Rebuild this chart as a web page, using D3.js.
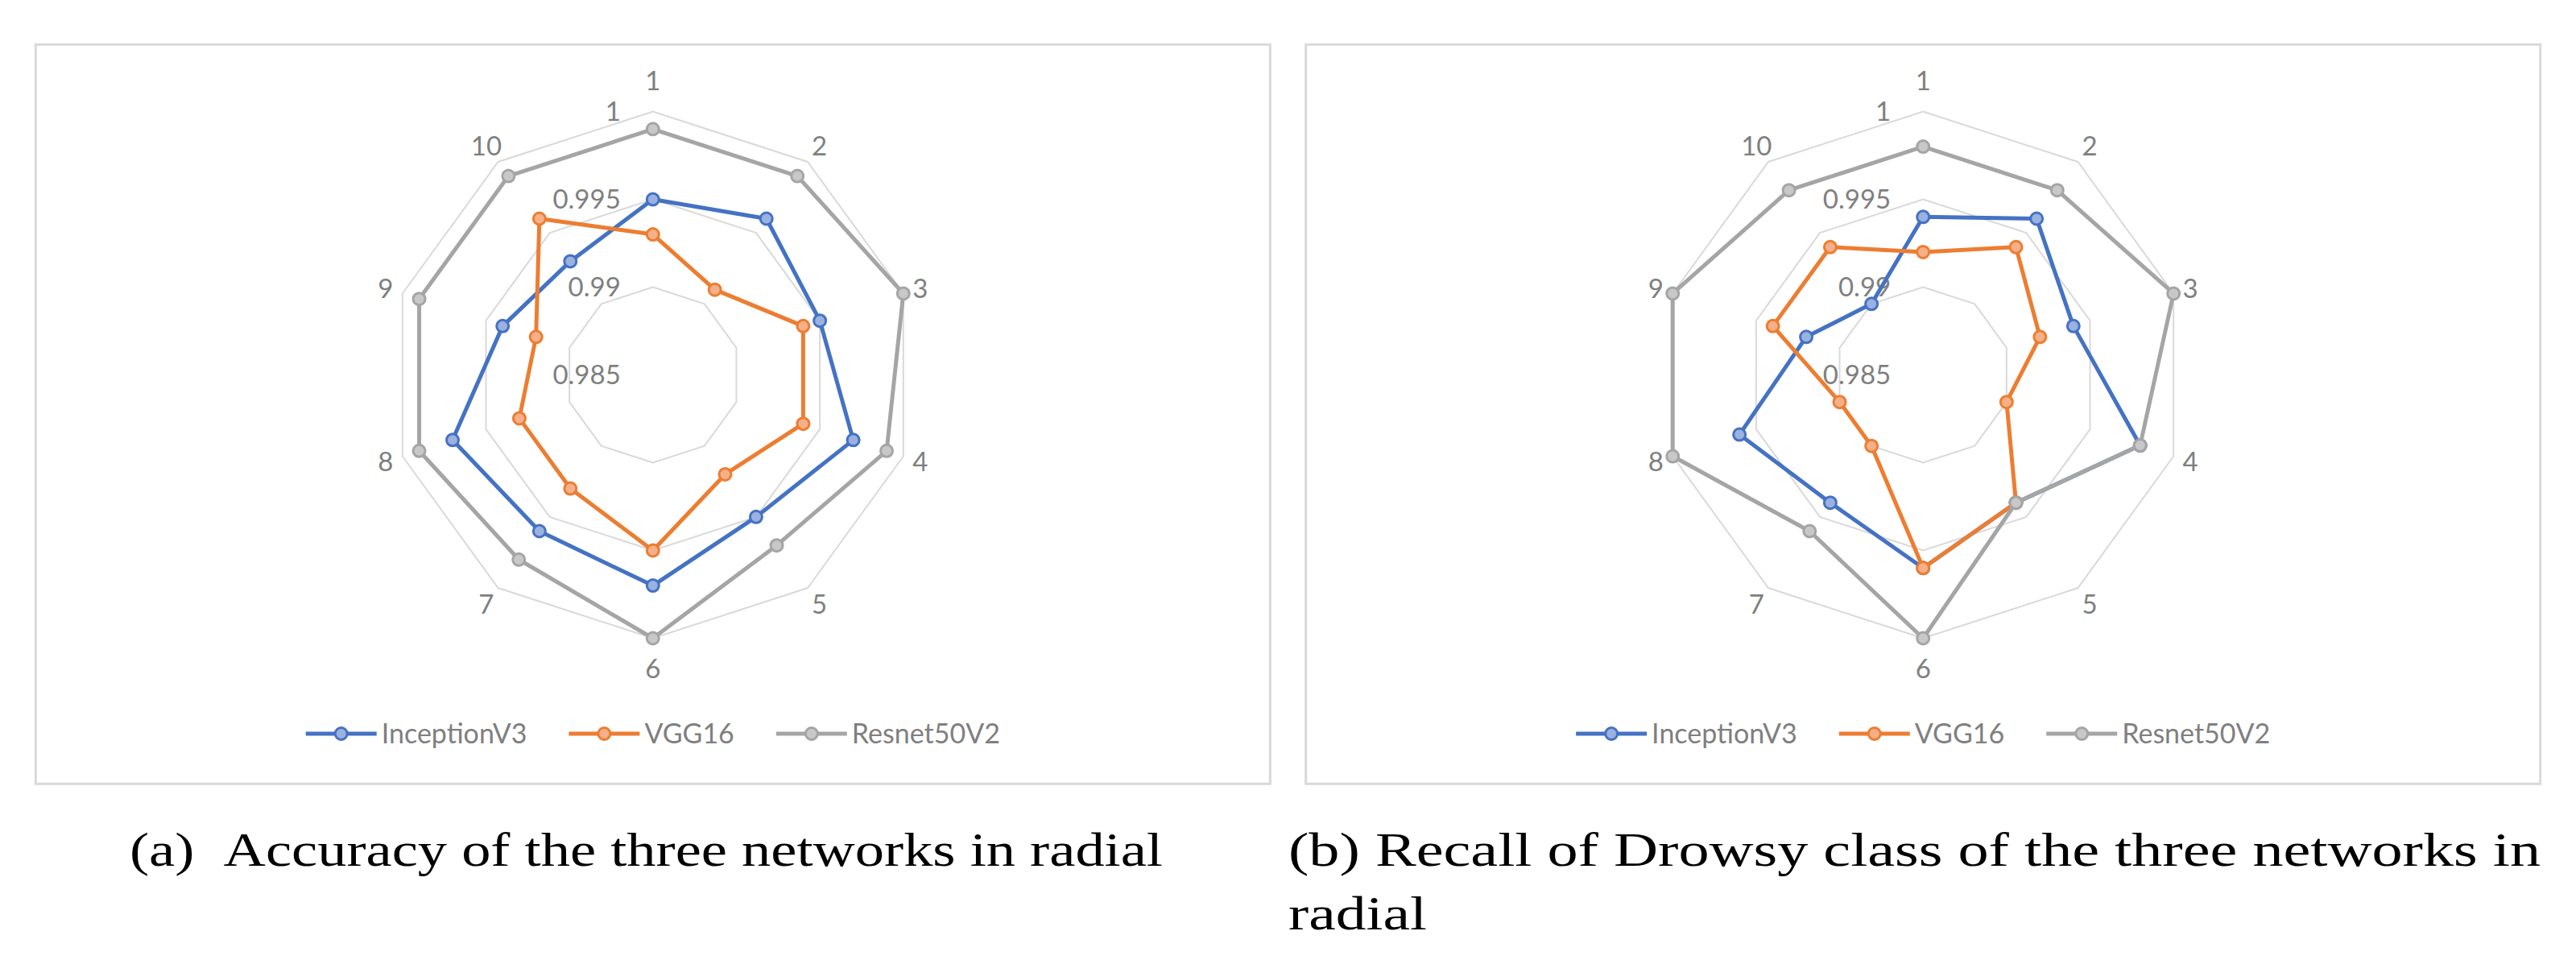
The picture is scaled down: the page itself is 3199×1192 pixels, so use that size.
<!DOCTYPE html>
<html>
<head>
<meta charset="utf-8">
<script src="https://cdn.jsdelivr.net/npm/d3@7"></script>
<style>
  body { margin: 0; background: #fff; }
  svg { display: block; }
</style>
</head>
<body>
<svg id="chart"></svg>
<script>
// ── Data ────────────────────────────────────────────────────────────────
const categories  = ["1", "2", "3", "4", "5", "6", "7", "8", "9", "10"];
const seriesNames = ["InceptionV3", "VGG16", "Resnet50V2"];

// (a) accuracy
const accInception = [0.995, 0.996, 0.995, 0.997, 0.995, 0.997, 0.996, 0.997, 0.994, 0.993];
const accVgg       = [0.993, 0.991, 0.994, 0.994, 0.992, 0.995, 0.993, 0.993, 0.992, 0.996];
const accResnet    = [0.999, 0.999, 1.000, 0.999, 0.997, 1.000, 0.998, 0.999, 0.999, 0.999];

// (b) recall of Drowsy class
const recInception = [0.994, 0.996, 0.994, 0.998, 0.994, 0.996, 0.994, 0.996, 0.992, 0.990];
const recVgg       = [0.992, 0.994, 0.992, 0.990, 0.994, 0.996, 0.990, 0.990, 0.994, 0.994];
const recResnet    = [0.998, 0.998, 1.000, 0.998, 0.994, 1.000, 0.996, 1.000, 1.000, 0.998];

const radialTicks = [0.985, 0.99, 0.995, 1];
const tickLabels  = ["0.985", "0.99", "0.995", "1"];

const captionA  = "(a)\u00a0\u00a0Accuracy of the three networks in radial";
const captionB1 = "(b) Recall of Drowsy class of the three networks in";
const captionB2 = "radial";

// ── Layout / style ──────────────────────────────────────────────────────
const W = 3199, H = 1192;
const PANEL_W = 1533, PANEL_H = 918, PANEL_TOP = 55.3;
const R  = 327;
const CY = 465.5;
const LEGEND_Y = 911;

const COLORS = ["#4472c4", "#ed7d31", "#a5a5a5"];
const FILLS  = ["#9bb1e0", "#f5b089", "#c8c8c8"];
const GRID   = "#d9d9d9";
const TEXT   = "#7f7f7f";
const FONT   = "Lato, 'Open Sans', sans-serif";

const svg = d3.select("#chart").attr("width", W).attr("height", H);

svg.append("rect").attr("width", W).attr("height", H).attr("fill", "#fff");

function drawRadar(x0, seriesValues) {
  // panel frame
  svg.append("rect")
    .attr("x", x0).attr("y", PANEL_TOP)
    .attr("width", PANEL_W).attr("height", PANEL_H)
    .attr("fill", "#fff").attr("stroke", GRID).attr("stroke-width", 3);

  const cx = x0 + PANEL_W / 2;
  const g = svg.append("g").attr("transform", `translate(${cx},${CY})`);

  const angle = d3.scaleLinear()
    .domain([0, categories.length])
    .range([0, 2 * Math.PI]);

  const r = d3.scaleLinear()
    .domain([radialTicks[0], radialTicks[radialTicks.length - 1]])
    .range([0, R]);

  const radial = d3.lineRadial()
    .angle((d, i) => angle(i))
    .radius(d => r(d))
    .curve(d3.curveLinearClosed);

  // grid rings
  g.selectAll(".ring")
    .data(radialTicks.filter(t => r(t) > 0))
    .join("path")
      .attr("class", "ring")
      .attr("d", t => radial(categories.map(() => t)))
      .attr("fill", "none")
      .attr("stroke", GRID)
      .attr("stroke-width", 2);

  // value labels up the first axis
  g.selectAll(".tick-label")
    .data(radialTicks)
    .join("text")
      .attr("class", "tick-label")
      .attr("x", -40)
      .attr("y", t => -r(t))
      .attr("dy", "0.36em")
      .attr("text-anchor", "end")
      .attr("font-family", FONT).attr("font-size", 33)
      .attr("fill", TEXT)
      .text((t, i) => tickLabels[i]);

  // category labels
  g.selectAll(".cat-label")
    .data(categories)
    .join("text")
      .attr("class", "cat-label")
      .attr("transform", (c, i) => {
        const a = angle(i);
        const lr = R + 22 + 16 * Math.pow(Math.abs(Math.cos(a)), 8);
        const [px, py] = d3.pointRadial(a, lr);
        return `translate(${px},${py})`;
      })
      .attr("dy", "0.36em")
      .attr("text-anchor", "middle")
      .attr("font-family", FONT).attr("font-size", 33)
      .attr("fill", TEXT)
      .text(c => c);

  // series
  seriesValues.forEach((vals, s) => {
    g.append("path")
      .datum(vals)
      .attr("d", radial)
      .attr("fill", "none")
      .attr("stroke", COLORS[s])
      .attr("stroke-width", 5)
      .attr("stroke-linejoin", "round");

    g.selectAll(`.dot-${s}`)
      .data(vals)
      .join("circle")
        .attr("class", `dot-${s}`)
        .attr("cx", (d, i) => d3.pointRadial(angle(i), r(d))[0])
        .attr("cy", (d, i) => d3.pointRadial(angle(i), r(d))[1])
        .attr("r", 7.5)
        .attr("fill", FILLS[s])
        .attr("stroke", COLORS[s])
        .attr("stroke-width", 3);
  });

  // legend
  const legend = svg.append("g");
  let xPos = 0;
  seriesNames.forEach((name, s) => {
    const item = legend.append("g").attr("transform", `translate(${xPos},0)`);
    item.append("line")
      .attr("x1", 0).attr("x2", 88).attr("y1", 0).attr("y2", 0)
      .attr("stroke", COLORS[s]).attr("stroke-width", 5);
    item.append("circle")
      .attr("cx", 44).attr("cy", 0).attr("r", 7.5)
      .attr("fill", FILLS[s]).attr("stroke", COLORS[s]).attr("stroke-width", 3);
    const label = item.append("text")
      .attr("x", 94).attr("y", 0).attr("dy", "0.36em")
      .attr("font-family", FONT).attr("font-size", 34)
      .attr("fill", TEXT)
      .text(name);
    xPos += 94 + label.node().getComputedTextLength() + 52;
  });
  const legendW = xPos - 52;
  legend.attr("transform", `translate(${cx - legendW / 2},${LEGEND_Y})`);
}

drawRadar(44.3,   [accInception, accVgg, accResnet]);
drawRadar(1621.7, [recInception, recVgg, recResnet]);

// ── Captions ────────────────────────────────────────────────────────────
function caption(x, y, width, str) {
  const t = svg.append("text")
    .attr("x", x).attr("y", y)
    .attr("font-family", "'Liberation Serif', 'DejaVu Serif', serif")
    .attr("font-size", 60)
    .attr("fill", "#000")
    .text(str);
  if (width) t.attr("textLength", width).attr("lengthAdjust", "spacingAndGlyphs");
}

caption(161, 1075, 1283, captionA);
caption(1600, 1075, 1555, captionB1);
caption(1600, 1154, 172, captionB2);
</script>
</body>
</html>
